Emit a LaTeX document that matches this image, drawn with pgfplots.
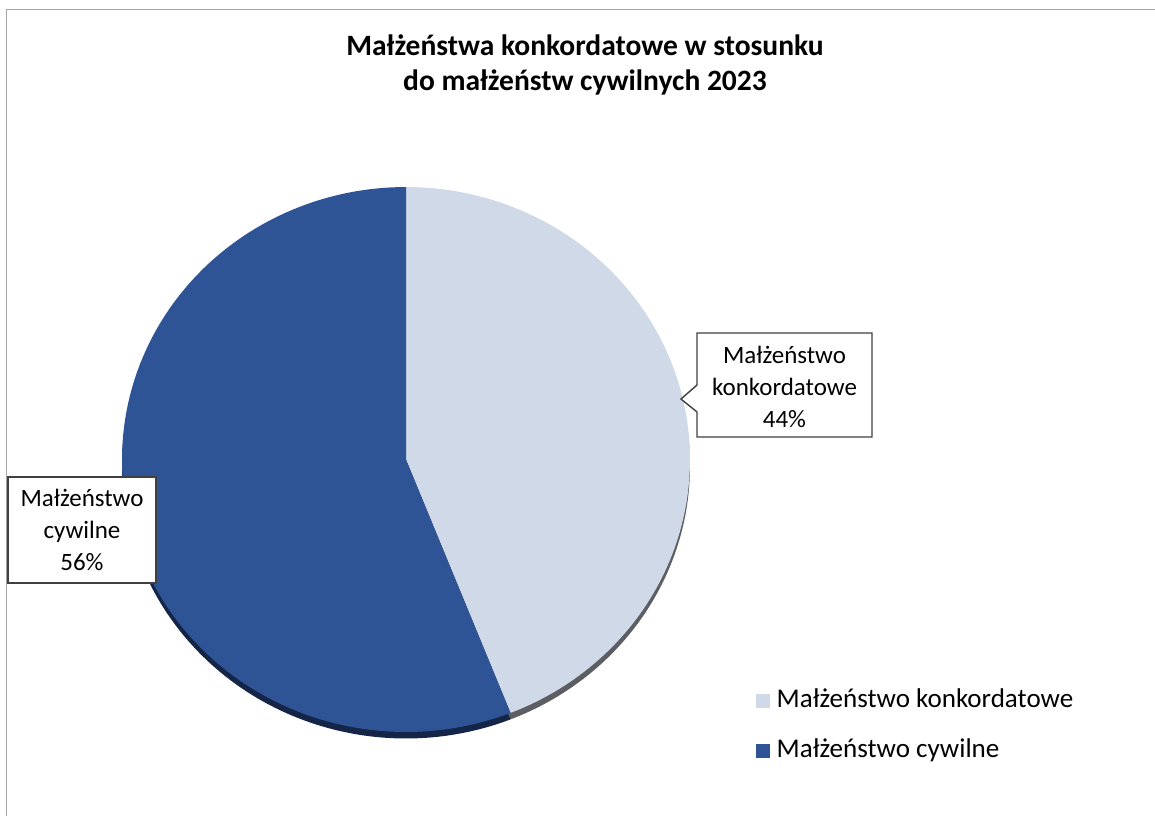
\documentclass[border=0pt]{standalone}
\usepackage{fontspec}
\setmainfont{Carlito}
\usepackage{pgfplots}
\usepackage{pgfplotstable}
\pgfplotsset{compat=1.18}
\definecolor{konk}{RGB}{208,217,231}
\definecolor{cyw}{RGB}{47,84,150}
\definecolor{konkedge}{RGB}{92,94,99}
\definecolor{cywedge}{RGB}{21,37,72}
\definecolor{framegray}{RGB}{165,165,165}
\definecolor{boxline}{RGB}{64,64,64}

% udzial procentowy
\pgfplotstableread{
label share
konkordatowe 44
cywilne 56
}\pietab

\begin{document}
\begin{tikzpicture}
\pgfplotstablegetelem{0}{share}\of\pietab
\let\shareA\pgfplotsretval
\pgfmathsetmacro{\angA}{90-3.6*\shareA}
\pgfmathsetmacro{\angB}{\angA+360}
\begin{axis}[
  width=11.55cm, height=8.16cm, scale only axis,
  xmin=0, xmax=1155, ymin=0, ymax=816, y dir=reverse,
  hide axis, clip=false,
  samples=120, variable=\t,
  legend style={at={(axis cs:755,681)}, anchor=north west, draw=none, fill=none,
    font=\fontsize{7.7}{9.5}\selectfont, row sep=1.2mm,
    inner sep=0pt, cells={anchor=west}},
  legend image code/.code={\fill[#1] (0mm,-0.7mm) rectangle (1.4mm,0.7mm);},
]
% krawedz (efekt 3D)
\addplot[forget plot, fill=konkedge, draw=none, domain=\angA:90]
  ({406+284*cos(t)},{466-272.5*sin(t)}) -- (406,466) -- cycle;
\addplot[forget plot, fill=cywedge, draw=none, domain=90:\angB]
  ({406+284*cos(t)},{466-272.5*sin(t)}) -- (406,466) -- cycle;
% wycinki
\addplot[fill=konk, draw=none, domain=\angA:90]
  ({406+284*cos(t)},{459.5-272.5*sin(t)}) -- (406,459.5) -- cycle;
\addlegendentry{Małżeństwo konkordatowe}
\addplot[fill=cyw, draw=none, domain=90:\angB]
  ({406+284*cos(t)},{459.5-272.5*sin(t)}) -- (406,459.5) -- cycle;
\addlegendentry{Małżeństwo cywilne}

% ramka
\draw[framegray, line width=0.35pt] (6.5,816) -- (6.5,9.5) -- (1155,9.5);

% tytul
\node[align=center, font=\bfseries\fontsize{8.4}{10.2}\selectfont] at (585,65)
  {Małżeństwa konkordatowe w stosunku\\do małżeństw cywilnych 2023};

% etykiety danych
\draw[boxline, fill=white, line width=0.4pt]
  (697,333) -- (872,333) -- (872,437) -- (697,437) -- (697,412) -- (681,399) -- (697,385) -- cycle;
\node[align=center, font=\fontsize{7.1}{9.1}\selectfont] at (784.5,387)
  {Małżeństwo\\konkordatowe\\44\%};
\draw[boxline, fill=white, line width=0.4pt]
  (8,477) rectangle (156,583);
\node[align=center, font=\fontsize{7.1}{9.1}\selectfont] at (82,530)
  {Małżeństwo\\cywilne\\56\%};
\end{axis}
\pgfresetboundingbox
\useasboundingbox (current axis.south west) rectangle (current axis.north east);
\end{tikzpicture}%
\end{document}
